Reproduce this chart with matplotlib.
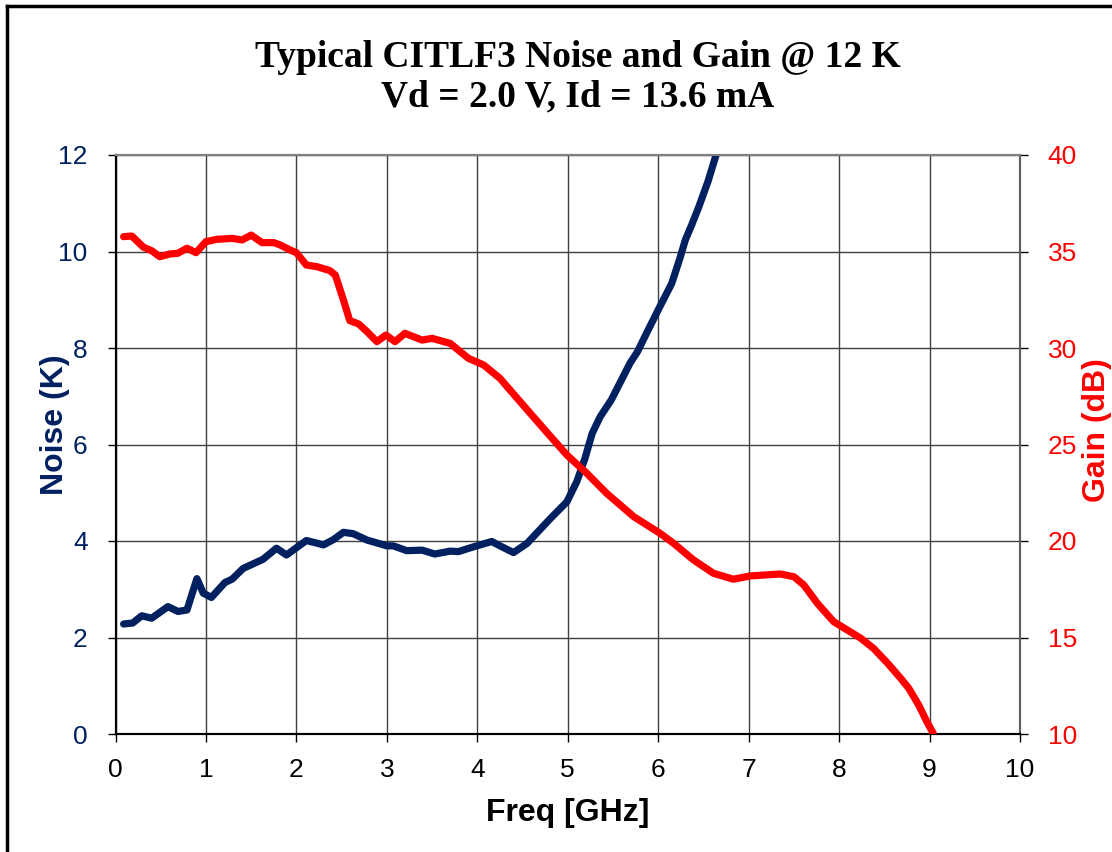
import numpy as np
import matplotlib
matplotlib.use('Agg')
import matplotlib.pyplot as plt
from matplotlib.lines import Line2D

# noise curve
noise_f = [0.09, 0.19, 0.29, 0.40, 0.58, 0.69, 0.79, 0.90, 0.97, 1.06,
           1.21, 1.29, 1.41, 1.63, 1.78, 1.89, 2.11, 2.30, 2.41, 2.52,
           2.63, 2.78, 3.00, 3.07, 3.22, 3.39, 3.53, 3.70, 3.79, 3.96,
           4.16, 4.25, 4.40, 4.55, 4.81, 4.99, 5.10, 5.19, 5.27, 5.36,
           5.48, 5.69, 5.77, 5.88, 6.00, 6.15, 6.24, 6.30, 6.37, 6.45,
           6.55, 6.64, 6.72]
noise_k = [2.28, 2.30, 2.45, 2.40, 2.64, 2.54, 2.57, 3.22, 2.92, 2.83,
           3.14, 3.21, 3.43, 3.62, 3.85, 3.71, 4.01, 3.92, 4.03, 4.18,
           4.15, 4.02, 3.90, 3.90, 3.80, 3.81, 3.73, 3.79, 3.78, 3.88,
           3.99, 3.90, 3.76, 3.95, 4.47, 4.81, 5.23, 5.71, 6.23, 6.58,
           6.92, 7.69, 7.92, 8.34, 8.79, 9.34, 9.86, 10.24, 10.55, 10.93,
           11.45, 12.0, 12.4]

# gain curve
gain_f = [0.09, 0.18, 0.31, 0.40, 0.49, 0.60, 0.69, 0.79, 0.89, 1.00,
          1.12, 1.29, 1.40, 1.50, 1.62, 1.75, 1.82, 1.93, 2.00, 2.11,
          2.23, 2.37, 2.43, 2.52, 2.59, 2.69, 2.78, 2.89, 2.99, 3.09,
          3.20, 3.39, 3.50, 3.70, 3.90, 4.07, 4.25, 4.44, 4.73, 4.99,
          5.21, 5.43, 5.73, 6.02, 6.17, 6.39, 6.61, 6.83, 7.02, 7.35,
          7.50, 7.61, 7.76, 7.94, 8.09, 8.24, 8.38, 8.53, 8.68, 8.77,
          8.88, 8.97, 9.04]
gain_db = [35.77, 35.80, 35.22, 35.04, 34.73, 34.87, 34.91, 35.17, 34.94, 35.51,
           35.63, 35.68, 35.60, 35.85, 35.46, 35.46, 35.34, 35.08, 34.94, 34.30,
           34.21, 34.01, 33.78, 32.49, 31.42, 31.24, 30.85, 30.33, 30.67, 30.33,
           30.76, 30.41, 30.50, 30.24, 29.47, 29.12, 28.43, 27.40, 25.84, 24.46,
           23.51, 22.47, 21.26, 20.40, 19.88, 19.02, 18.33, 18.02, 18.19, 18.29,
           18.15, 17.72, 16.77, 15.82, 15.39, 14.96, 14.44, 13.70, 12.89, 12.37,
           11.50, 10.64, 10.04]

title1 = 'Typical CITLF3 Noise and Gain @ 12 K'
title2 = 'Vd = 2.0 V, Id = 13.6 mA'

navy = '#002060'
red = '#FF0000'

plt.rcParams['font.family'] = ['Liberation Sans', 'DejaVu Sans']

fig = plt.figure(figsize=(11.12, 8.52), dpi=100)
ax = fig.add_axes([115.5/1112, 1-734/852, (1020-115.5)/1112, (734-155)/852])
ax2 = ax.twinx()

ax.plot(noise_f, noise_k, color=navy, lw=5.2, solid_capstyle='round', solid_joinstyle='round', zorder=3)
ax2.plot(gain_f, gain_db, color=red, lw=5.2, solid_capstyle='round', solid_joinstyle='round', zorder=3)

ax.set_xlim(0, 10)
ax.set_ylim(0, 12)
ax2.set_ylim(10, 40)
ax.set_xticks(range(0, 11))
ax.set_yticks(range(0, 13, 2))
ax2.set_yticks(range(10, 41, 5))

ax.grid(True, color='0.25', lw=1.0)
ax.set_axisbelow(True)

ax.tick_params(axis='x', labelsize=19, colors='black', length=6, width=1, pad=11, direction='out')
ax.tick_params(axis='y', labelsize=19, labelcolor=navy, color='black', length=6, width=1, pad=14)
ax2.tick_params(axis='y', labelsize=19, labelcolor=red, color='black', length=6, width=1, pad=14)

for a in (ax, ax2):
    a.spines['left'].set_color('black')
    a.spines['bottom'].set_color('black')
    a.spines['top'].set_color('#808080')
    a.spines['right'].set_color('#606060')
    for s in a.spines.values():
        s.set_linewidth(1.5)

ax.set_xlabel('Freq [GHz]', fontsize=23, fontweight='bold', labelpad=12)
fig.text(55/1112, 1-425/852, 'Noise (K)', rotation=90, fontsize=23, fontweight='bold',
         color=navy, ha='center', va='center')
fig.text(1097/1112, 1-430/852, 'Gain (dB)', rotation=90, fontsize=23, fontweight='bold',
         color=red, ha='center', va='center')

fig.text(578/1112, 1-67/852, title1, fontsize=27, fontweight='bold', family='Liberation Serif',
         ha='center', va='baseline')
fig.text(578/1112, 1-106/852, title2, fontsize=27, fontweight='bold', family='Liberation Serif',
         ha='center', va='baseline')

# outer frame (left and top edges visible)
fig.add_artist(Line2D([7/1112, 7/1112], [0, 1-6/852], color='black', lw=2.5, transform=fig.transFigure))
fig.add_artist(Line2D([7/1112, 1], [1-6/852, 1-6/852], color='black', lw=2.5, transform=fig.transFigure))

fig.savefig('out.png', dpi=100)
